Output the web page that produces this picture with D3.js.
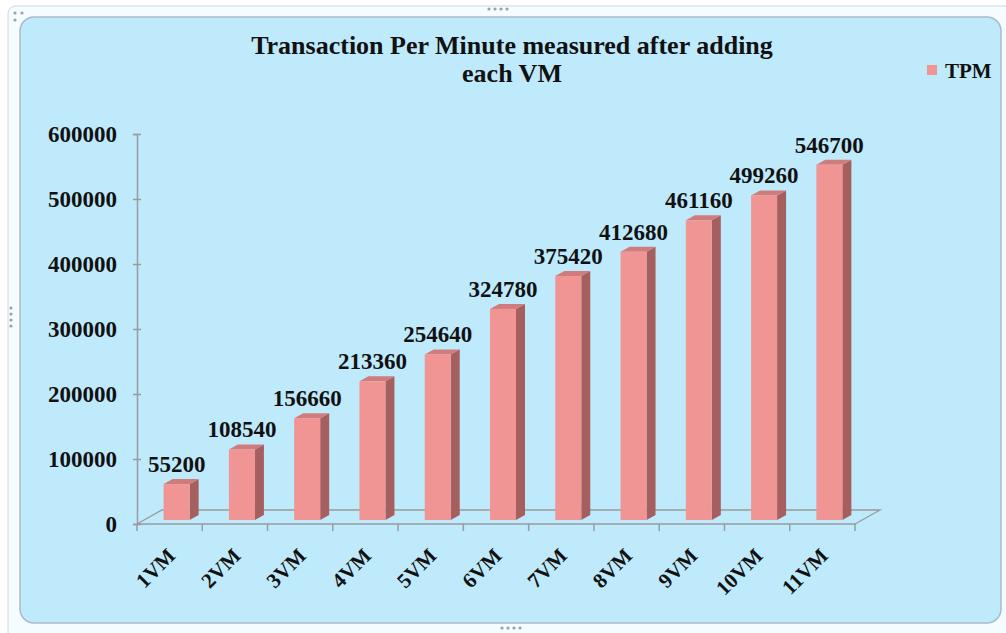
<!DOCTYPE html>
<html>
<head>
<meta charset="utf-8">
<script src="https://cdn.jsdelivr.net/npm/d3@7"></script>
<style>
  body{margin:0;background:#fff;}
  text{font-family:"Liberation Serif","Times New Roman",serif;font-weight:bold;fill:#111;}
</style>
</head>
<body>
<div id="chart"></div>
<script>
var categories=["1VM","2VM","3VM","4VM","5VM","6VM","7VM","8VM","9VM","10VM","11VM"];
var tpm=[55200,108540,156660,213360,254640,324780,375420,412680,461160,499260,546700];
var yTicks=[0,100000,200000,300000,400000,500000,600000];
var titleLines=["Transaction Per Minute measured after adding","each VM"];
var seriesName="TPM";

var width=1006, height=633;
var depth={x:25,y:-14};      // floor depth
var barShift={x:7,y:-4};     // bars sit a little behind the front edge
var barSide={x:9,y:-5};      // bar thickness

var svg=d3.select("#chart").append("svg")
  .attr("width",width)
  .attr("height",height);

// frame + panel
svg.append("rect")
  .attr("x",8).attr("y",6).attr("width",1010).attr("height",640)
  .attr("rx",8)
  .attr("fill","#f4fcff").attr("stroke","#cfd8dc");
svg.append("rect")
  .attr("x",20).attr("y",17).attr("width",981).attr("height",606)
  .attr("rx",14)
  .attr("fill","#bfeafc").attr("stroke","#a9bcc6").attr("stroke-width",1.5);

// resize handle dots
var dots=[[15,13],[22,13],[15,20],[489,9],[495,9],[501,9],[507,9],[502,628],[508,628],[514,628],[520,628],[11,308],[11,314],[11,320],[11,326]];
svg.selectAll("circle.handle").data(dots).enter().append("circle")
  .attr("class","handle")
  .attr("cx",function(d){return d[0];})
  .attr("cy",function(d){return d[1];})
  .attr("r",1.6)
  .attr("fill","#9aa3a8");

var x=d3.scaleBand().domain(categories).range([137,855]).padding(0);
var y=d3.scaleLinear().domain([0,600000]).range([524,134]);

// floor
var floor=svg.append("g").attr("stroke","#9a9a9a").attr("stroke-width",1.3).attr("fill","none");
floor.append("path").attr("d",
  "M"+x.range()[0]+","+y(0)+
  "L"+(x.range()[0]+depth.x)+","+(y(0)+depth.y)+
  "L"+(x.range()[1]+depth.x)+","+(y(0)+depth.y)+
  "L"+x.range()[1]+","+y(0));

// y axis
var yAxis=d3.axisLeft(y).tickValues(yTicks).tickSize(4).tickPadding(16).tickFormat(d3.format("d"));
var gy=svg.append("g").attr("transform","translate(137,0)").call(yAxis);
gy.select(".domain").attr("stroke","#9a9a9a").attr("stroke-width",1.5);
gy.selectAll(".tick line").attr("stroke","#9a9a9a").attr("stroke-width",1.5).attr("x2",4).attr("x1",-4);
gy.selectAll(".tick text").attr("font-size","23px").attr("fill","#111").attr("dy","0.34em")
  .style("font-family","Liberation Serif").style("font-weight","bold");

// x axis line + ticks
svg.append("line")
  .attr("x1",x.range()[0]).attr("x2",x.range()[1])
  .attr("y1",y(0)).attr("y2",y(0))
  .attr("stroke","#9a9a9a").attr("stroke-width",1.5);
var tickPos=categories.map(function(c){return x(c);}).concat([x.range()[1]]);
svg.selectAll("line.xtick").data(tickPos).enter().append("line")
  .attr("class","xtick")
  .attr("x1",function(d){return d;}).attr("x2",function(d){return d;})
  .attr("y1",y(0)).attr("y2",y(0)+7)
  .attr("stroke","#9a9a9a").attr("stroke-width",1.5);

// category labels
svg.selectAll("text.cat").data(categories).enter().append("text")
  .attr("class","cat")
  .attr("text-anchor","end")
  .attr("font-size","21px")
  .attr("transform",function(d){
    return "translate("+(x(d)+x.bandwidth()/2+7)+",557) rotate(-45)";
  })
  .text(function(d){return d;});

// bars
var bw=26;
var bars=svg.selectAll("g.bar")
  .data(categories.map(function(c,i){return {cat:c,val:tpm[i]};}))
  .enter().append("g")
  .attr("class","bar");

function bx(d){return x(d.cat)+x.bandwidth()/2-bw/2+barShift.x;}
function by(d){return y(d.val)+barShift.y;}
function base(){return y(0)+barShift.y;}

bars.append("path")  // side
  .attr("fill","#a55f5f")
  .attr("d",function(d){
    var x0=bx(d)+bw, t=by(d), b=base();
    return "M"+x0+","+b+"L"+x0+","+t+"L"+(x0+barSide.x)+","+(t+barSide.y)+
      "L"+(x0+barSide.x)+","+(b+barSide.y)+"Z";
  });
bars.append("path")  // top
  .attr("fill","#d07c7c")
  .attr("d",function(d){
    var x0=bx(d), t=by(d);
    return "M"+x0+","+t+"L"+(x0+bw)+","+t+"L"+(x0+bw+barSide.x)+","+(t+barSide.y)+
      "L"+(x0+barSide.x)+","+(t+barSide.y)+"Z";
  });
bars.append("rect")  // front
  .attr("fill","#f09494")
  .attr("x",bx)
  .attr("y",by)
  .attr("width",bw)
  .attr("height",function(d){return base()-by(d);});

bars.append("text")
  .attr("text-anchor","middle")
  .attr("font-size","23px")
  .attr("x",function(d){return bx(d)+bw/2;})
  .attr("y",function(d){return by(d)-12;})
  .text(function(d){return d.val;});

// title
svg.append("text")
  .attr("text-anchor","middle")
  .attr("font-size","26px")
  .selectAll("tspan").data(titleLines).enter().append("tspan")
  .attr("x",512)
  .attr("y",function(d,i){return 54+i*28;})
  .text(function(d){return d;});

// legend
var legend=svg.append("g").attr("transform","translate(927,65)");
legend.append("rect").attr("width",10).attr("height",10).attr("fill","#f09494");
legend.append("text").attr("x",18).attr("y",13).attr("font-size","21px").text(seriesName);
</script>
</body>
</html>
